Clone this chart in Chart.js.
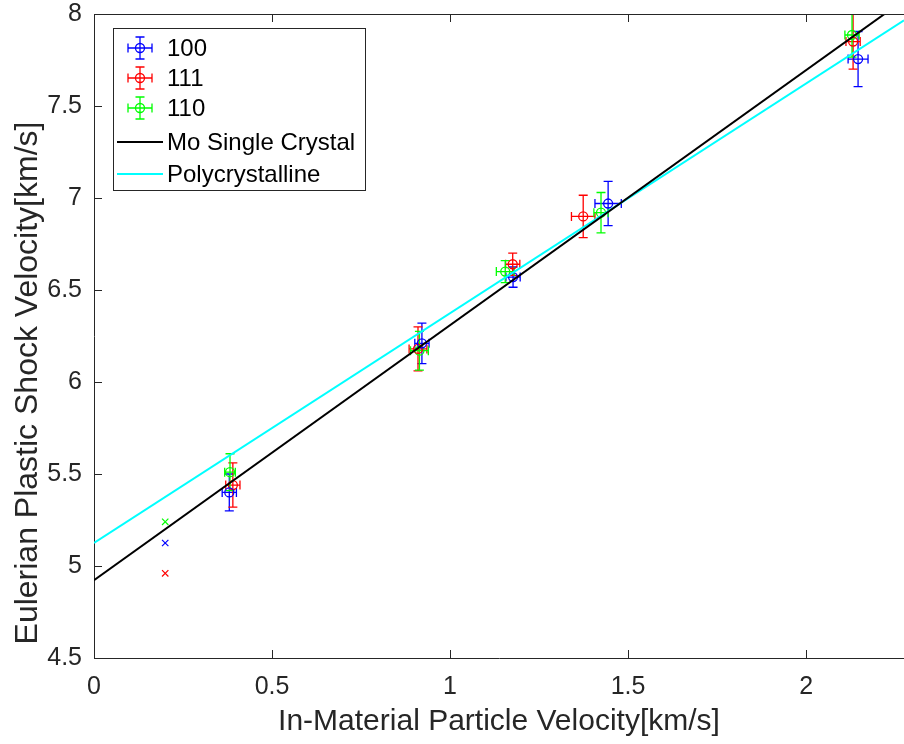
<!DOCTYPE html>
<html>
<head>
<meta charset="utf-8">
<script src="https://cdn.jsdelivr.net/npm/chart.js@4.4.0/dist/chart.umd.min.js"></script>
<style>
  body { margin: 0; background: #fff; }
  #wrap { width: 904px; height: 744px; }
</style>
</head>
<body>
<div id="wrap"><canvas id="chart" width="904" height="744"></canvas></div>
<script>
// crystal orientations
const seriesNames = ['100', '111', '110'];
const seriesColors = ['#0000ff', '#ff0000', '#00ff00'];

const x100 = [0.38, 0.921, 1.177, 1.444, 2.146];
const y100 = [5.40, 6.21, 6.57, 6.97, 7.755];
const xErr100 = [0.02, 0.02, 0.02, 0.037, 0.028];
const yErr100 = [0.10, 0.11, 0.055, 0.12, 0.15];

const x111 = [0.39, 0.91, 1.176, 1.374, 2.132];
const y111 = [5.44, 6.18, 6.64, 6.90, 7.85];
const xErr111 = [0.02, 0.025, 0.02, 0.033, 0.02];
const yErr111 = [0.12, 0.12, 0.06, 0.115, 0.15];

const x110 = [0.382, 0.914, 1.155, 1.424, 2.129];
const y110 = [5.51, 6.17, 6.60, 6.92, 7.886];
const xErr110 = [0.015, 0.025, 0.025, 0.02, 0.02];
const yErr110 = [0.10, 0.105, 0.06, 0.11, 0.12];

// single x markers (100, 111, 110)
const crossX = [0.2, 0.2, 0.2];
const crossY = [5.125, 4.96, 5.24];

// fit lines
const fitX = [0, 2.275];
const moY = [4.923, 8.076];
const polyY = [5.125, 7.966];

const xTicks = [0, 0.5, 1, 1.5, 2];
const yTicks = [4.5, 5, 5.5, 6, 6.5, 7, 7.5, 8];

const axisColor = '#262626';
Chart.defaults.font.family = '"Liberation Sans", Arial, sans-serif';

function pts(xs, ys) {
    return xs.map((x, i) => ({ x: x, y: ys[i] }));
}

function errSet(label, color, xs, ys, xe, ye) {
    return {
        label: label,
        data: pts(xs, ys),
        xErr: xe,
        yErr: ye,
        borderColor: color,
        backgroundColor: 'rgba(0,0,0,0)',
        pointRadius: 4.5,
        pointBorderWidth: 1.3,
        showLine: false,
        order: 2,
    };
}

const errorBars = {
    id: 'errorBars',
    beforeDatasetsDraw(chart) {
        const { ctx, chartArea, scales } = chart;
        ctx.save();
        ctx.beginPath();
        ctx.rect(chartArea.left, chartArea.top, chartArea.right - chartArea.left, chartArea.bottom - chartArea.top);
        ctx.clip();
        ctx.lineWidth = 1.3;
        chart.data.datasets.forEach(ds => {
            if (!ds.yErr) return;
            ctx.strokeStyle = ds.borderColor;
            ds.data.forEach((p, i) => {
                const px = scales.x.getPixelForValue(p.x);
                const py = scales.y.getPixelForValue(p.y);
                const top = scales.y.getPixelForValue(p.y + ds.yErr[i]);
                const bot = scales.y.getPixelForValue(p.y - ds.yErr[i]);
                const lft = scales.x.getPixelForValue(p.x - ds.xErr[i]);
                const rgt = scales.x.getPixelForValue(p.x + ds.xErr[i]);
                const c = 4.5;
                ctx.beginPath();
                ctx.moveTo(px, top); ctx.lineTo(px, bot);
                ctx.moveTo(px - c, top); ctx.lineTo(px + c, top);
                ctx.moveTo(px - c, bot); ctx.lineTo(px + c, bot);
                ctx.moveTo(lft, py); ctx.lineTo(rgt, py);
                ctx.moveTo(lft, py - c); ctx.lineTo(lft, py + c);
                ctx.moveTo(rgt, py - c); ctx.lineTo(rgt, py + c);
                ctx.stroke();
            });
        });
        ctx.restore();
    }
};

const frame = {
    id: 'frame',
    afterDraw(chart) {
        const { ctx, chartArea, scales } = chart;
        const { left, right, top, bottom } = chartArea;
        ctx.save();
        ctx.strokeStyle = axisColor;
        ctx.lineWidth = 1;
        ctx.beginPath();
        ctx.moveTo(left, top + 0.5); ctx.lineTo(right, top + 0.5);
        xTicks.forEach(v => {
            const x = Math.round(scales.x.getPixelForValue(v)) + 0.5;
            ctx.moveTo(x, bottom); ctx.lineTo(x, bottom - 8);
            ctx.moveTo(x, top); ctx.lineTo(x, top + 8);
        });
        yTicks.forEach(v => {
            const y = Math.round(scales.y.getPixelForValue(v)) + 0.5;
            ctx.moveTo(left, y); ctx.lineTo(left + 8, y);
        });
        ctx.stroke();

        // y axis title
        ctx.fillStyle = axisColor;
        ctx.font = '32px "Liberation Sans", Arial, sans-serif';
        ctx.textAlign = 'center';
        ctx.textBaseline = 'middle';
        ctx.translate(28, 383);
        ctx.rotate(-Math.PI / 2);
        ctx.fillText('Eulerian Plastic Shock Velocity[km/s]', 0, 0);
        ctx.restore();

        // legend
        ctx.save();
        ctx.fillStyle = '#fff';
        ctx.fillRect(113.5, 28.5, 252, 162);
        ctx.strokeStyle = axisColor;
        ctx.lineWidth = 1;
        ctx.strokeRect(113.5, 28.5, 252, 162);
        ctx.font = '24px "Liberation Sans", Arial, sans-serif';
        ctx.textAlign = 'left';
        ctx.textBaseline = 'middle';
        const rows = [48, 78, 108, 142, 174];
        chart.data.datasets.filter(d => !d.hideInLegend).forEach((ds, i) => {
            const y = rows[i];
            ctx.strokeStyle = ds.borderColor;
            if (ds.yErr) {
                const cx = 140;
                ctx.lineWidth = 1.3;
                ctx.beginPath();
                ctx.moveTo(cx, y - 11); ctx.lineTo(cx, y + 11);
                ctx.moveTo(cx - 4.5, y - 11); ctx.lineTo(cx + 4.5, y - 11);
                ctx.moveTo(cx - 4.5, y + 11); ctx.lineTo(cx + 4.5, y + 11);
                ctx.moveTo(cx - 12, y); ctx.lineTo(cx + 12, y);
                ctx.moveTo(cx - 12, y - 4.5); ctx.lineTo(cx - 12, y + 4.5);
                ctx.moveTo(cx + 12, y - 4.5); ctx.lineTo(cx + 12, y + 4.5);
                ctx.stroke();
                ctx.beginPath();
                ctx.arc(cx, y, 4.5, 0, Math.PI * 2);
                ctx.stroke();
            } else {
                ctx.lineWidth = ds.borderWidth;
                ctx.beginPath();
                ctx.moveTo(117, y); ctx.lineTo(163, y);
                ctx.stroke();
            }
            ctx.fillStyle = '#000';
            ctx.fillText(ds.label, 167, y + 1);
        });
        ctx.restore();
    }
};

const datasets = [
    errSet(seriesNames[0], seriesColors[0], x100, y100, xErr100, yErr100),
    errSet(seriesNames[1], seriesColors[1], x111, y111, xErr111, yErr111),
    errSet(seriesNames[2], seriesColors[2], x110, y110, xErr110, yErr110),
    {
        label: 'Mo Single Crystal',
        type: 'line',
        data: pts(fitX, moY),
        borderColor: '#000000',
        borderWidth: 2,
        pointRadius: 0,
        order: 1,
    },
    {
        label: 'Polycrystalline',
        type: 'line',
        data: pts(fitX, polyY),
        borderColor: '#00ffff',
        borderWidth: 2,
        pointRadius: 0,
        order: 1,
    },
];
seriesColors.forEach((c, i) => {
    datasets.push({
        label: seriesNames[i] + ' x',
        hideInLegend: true,
        data: [{ x: crossX[i], y: crossY[i] }],
        pointStyle: 'crossRot',
        pointRadius: 4.5,
        pointBorderWidth: 1.2,
        borderColor: c,
        order: 2,
    });
});

new Chart(document.getElementById('chart'), {
    type: 'scatter',
    data: { datasets: datasets },
    options: {
        responsive: false,
        animation: false,
        layout: { autoPadding: false, padding: { top: 14, right: 0, bottom: 0, left: 0 } },
        plugins: { legend: { display: false }, tooltip: { enabled: false } },
        scales: {
            x: {
                type: 'linear',
                min: 0,
                max: 2.275,
                grid: { display: false, drawTicks: false },
                border: { display: true, color: axisColor, width: 1 },
                afterBuildTicks: s => { s.ticks = xTicks.map(v => ({ value: v })); },
                afterFit: s => { s.height = 86; s.paddingLeft = 0; s.paddingRight = 0; },
                ticks: {
                    color: axisColor,
                    padding: 14,
                    font: { size: 25 },
                    callback: v => String(v),
                },
                title: {
                    display: true,
                    text: 'In-Material Particle Velocity[km/s]',
                    color: axisColor,
                    font: { size: 30 },
                    padding: { top: 0, bottom: 4 },
                },
            },
            y: {
                type: 'linear',
                min: 4.5,
                max: 8,
                grid: { display: false, drawTicks: false },
                border: { display: true, color: axisColor, width: 1 },
                afterBuildTicks: s => { s.ticks = yTicks.map(v => ({ value: v })); },
                afterFit: s => { s.width = 94; s.paddingTop = 0; s.paddingBottom = 0; },
                ticks: {
                    color: axisColor,
                    padding: 12,
                    font: { size: 25, lineHeight: 1 },
                    callback: v => String(v),
                },
            },
        },
    },
    plugins: [errorBars, frame],
});
</script>
</body>
</html>
